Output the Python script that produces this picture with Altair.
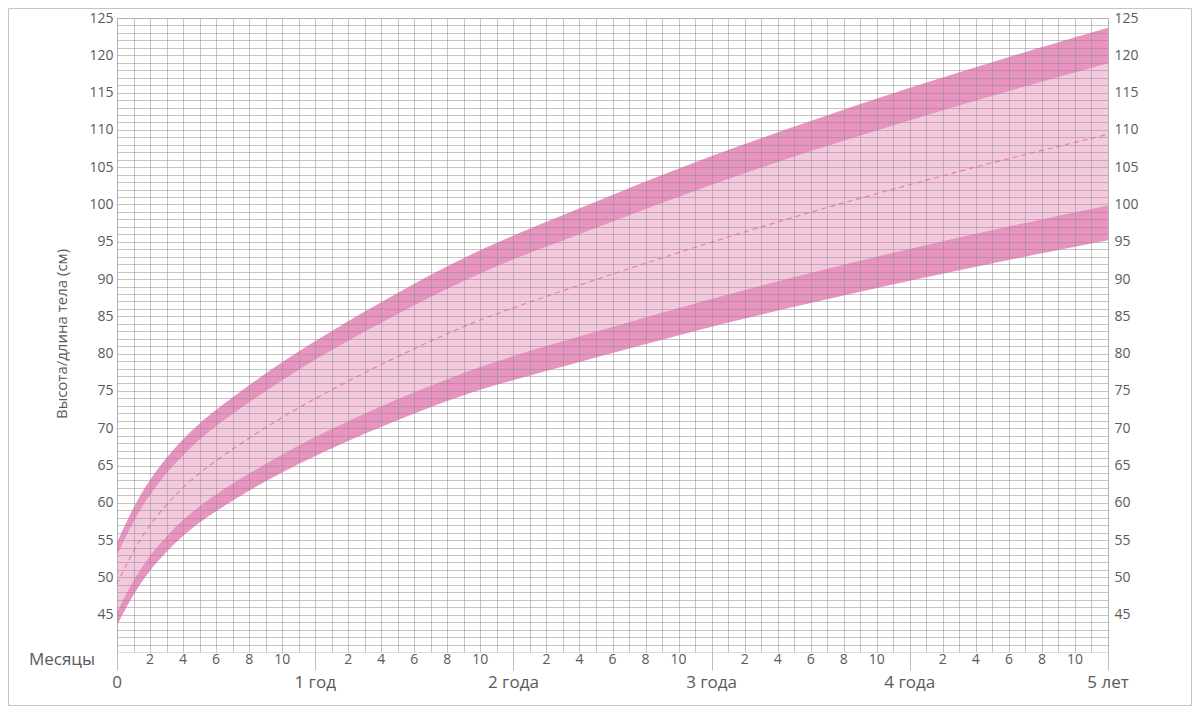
import altair as alt
import pandas as pd

# Age in months
months = [0, 1, 2, 3, 4, 5, 6, 8, 10, 12, 15, 18, 21, 24, 30, 36, 42, 48, 54, 60]
# Height/length (cm) curves
sd_m3 = [43.6, 47.8, 51.0, 53.5, 55.6, 57.4, 58.9, 61.7, 64.1, 66.3, 69.3, 72.0, 74.5, 76.5, 80.1, 83.7, 86.8, 89.8, 92.6, 95.2]
sd_m2 = [45.4, 49.8, 53.0, 55.6, 57.8, 59.6, 61.2, 64.0, 66.5, 68.9, 72.0, 74.9, 77.5, 79.8, 83.6, 87.4, 90.9, 94.1, 97.1, 99.9]
median = [49.1, 53.7, 57.1, 59.8, 62.1, 64.0, 65.7, 68.7, 71.5, 74.0, 77.5, 80.7, 83.7, 86.2, 90.7, 95.0, 99.0, 102.7, 106.2, 109.4]
sd_p2 = [52.9, 57.6, 61.1, 64.0, 66.4, 68.5, 70.3, 73.5, 76.4, 79.2, 83.0, 86.5, 89.8, 92.7, 97.7, 102.7, 107.2, 111.3, 115.2, 118.9]
sd_p3 = [54.7, 59.5, 63.2, 66.1, 68.6, 70.7, 72.5, 75.8, 78.9, 81.7, 85.7, 89.4, 92.9, 95.9, 101.3, 106.6, 111.2, 115.7, 119.8, 123.7]

# Axis labels
year_positions = [0, 12, 24, 36, 48, 60]
year_labels = ["0", "1 год", "2 года", "3 года", "4 года", "5 лет"]
month_labels = [2, 4, 6, 8, 10]
y_label_values = list(range(45, 126, 5))

df = pd.DataFrame({"m": months, "a": sd_m3, "b": sd_m2, "c": median, "d": sd_p2, "e": sd_p3})

month_df = pd.DataFrame(
    [{"m": y + m, "lab": str(m)} for y in year_positions[:-1] for m in month_labels]
)
year_df = pd.DataFrame({"m": year_positions, "lab": year_labels})

W, H = 991, 634
PL, PT, PR, PB = 109, 10, 84, 54
FONT = "Open Sans"
TXT = "#5a5a5a"
DARK = "#e993c0"
LIGHT = "#f4c9de"
INTERP = "basis"

xscale = alt.Scale(domain=[0, 60], nice=False, zero=False)
yscale = alt.Scale(domain=[40, 125], nice=False, zero=False)

grid_x_axis = alt.Axis(
    values=list(range(0, 61)), grid=True, gridColor="#8c8c8c", gridOpacity=0.5, gridWidth=1,
    labels=False, domain=False, title=None, zindex=1,
    ticks=True, tickColor="#bdbdbd", tickWidth=1,
    tickSize={"condition": {"test": "datum.value % 12 === 0", "value": 18}, "value": 0},
)
grid_y_axis = alt.Axis(
    values=list(range(41, 126)), grid=True, gridColor="#8c8c8c", gridOpacity=0.5, gridWidth=1,
    labelExpr="datum.value % 5 === 0 && datum.value >= 45 ? datum.value : ''",
    labelFont=FONT, labelFontSize=14, labelColor=TXT, labelPadding=4,
    ticks=False, domain=False, title=None, zindex=1, orient="left",
)
right_y_axis = alt.Axis(
    values=y_label_values, grid=False, orient="right",
    labelFont=FONT, labelFontSize=14, labelColor=TXT, labelPadding=6,
    ticks=False, domain=False, title=None,
)

base = alt.Chart(df)

light = base.mark_area(color=LIGHT, interpolate=INTERP).encode(
    x=alt.X("m:Q", scale=xscale, axis=grid_x_axis),
    y=alt.Y("b:Q", scale=yscale, axis=grid_y_axis),
    y2="d:Q",
)
upper = base.mark_area(color=DARK, interpolate=INTERP).encode(
    x=alt.X("m:Q", scale=xscale, axis=None),
    y=alt.Y("d:Q", scale=yscale, axis=None),
    y2="e:Q",
)
lower = base.mark_area(color=DARK, interpolate=INTERP).encode(
    x=alt.X("m:Q", scale=xscale, axis=None),
    y=alt.Y("a:Q", scale=yscale, axis=None),
    y2="b:Q",
)
med = base.mark_line(color="#e47bb0", strokeDash=[5, 4], strokeWidth=1.1, interpolate=INTERP).encode(
    x=alt.X("m:Q", scale=xscale, axis=None),
    y=alt.Y("c:Q", scale=yscale, axis=right_y_axis),
)

month_text = alt.Chart(month_df).mark_text(
    font=FONT, fontSize=14, color=TXT, align="center", baseline="middle"
).encode(
    x=alt.X("m:Q", scale=xscale, axis=None),
    y=alt.value(H + 8),
    text="lab:N",
)
year_text = alt.Chart(year_df).mark_text(
    font=FONT, fontSize=17, color=TXT, align="center", baseline="middle"
).encode(
    x=alt.X("m:Q", scale=xscale, axis=None),
    y=alt.value(H + 31),
    text="lab:N",
)

one = alt.Data(values=[{"t": 1}])
mes_text = alt.Chart(one).mark_text(
    font=FONT, fontSize=17, color=TXT, align="right", baseline="middle", text="Месяцы"
).encode(x=alt.value(-22), y=alt.value(H + 8))
ytitle = alt.Chart(one).mark_text(
    font=FONT, fontSize=15, color=TXT, align="center", baseline="middle", angle=270,
    text="Высота/длина тела (см)"
).encode(x=alt.value(-55), y=alt.value(316))
frame = alt.Chart(one).mark_rect(fill="transparent", stroke="#c4c4c4", strokeWidth=1).encode(
    x=alt.value(-PL + 0.5), x2=alt.value(W + PR - 0.5),
    y=alt.value(-PT + 0.5), y2=alt.value(H + PB - 0.5),
)

chart = alt.layer(
    light, upper, lower, med, month_text, year_text, mes_text, ytitle, frame
).resolve_axis(y="independent", x="independent").properties(
    width=W, height=H,
    autosize=alt.AutoSizeParams(type="none"),
    padding={"left": PL, "top": PT, "right": PR, "bottom": PB},
).configure_view(stroke=None).configure(background="white")

chart.save("out.html", embed_options={"renderer": "svg", "actions": False})
